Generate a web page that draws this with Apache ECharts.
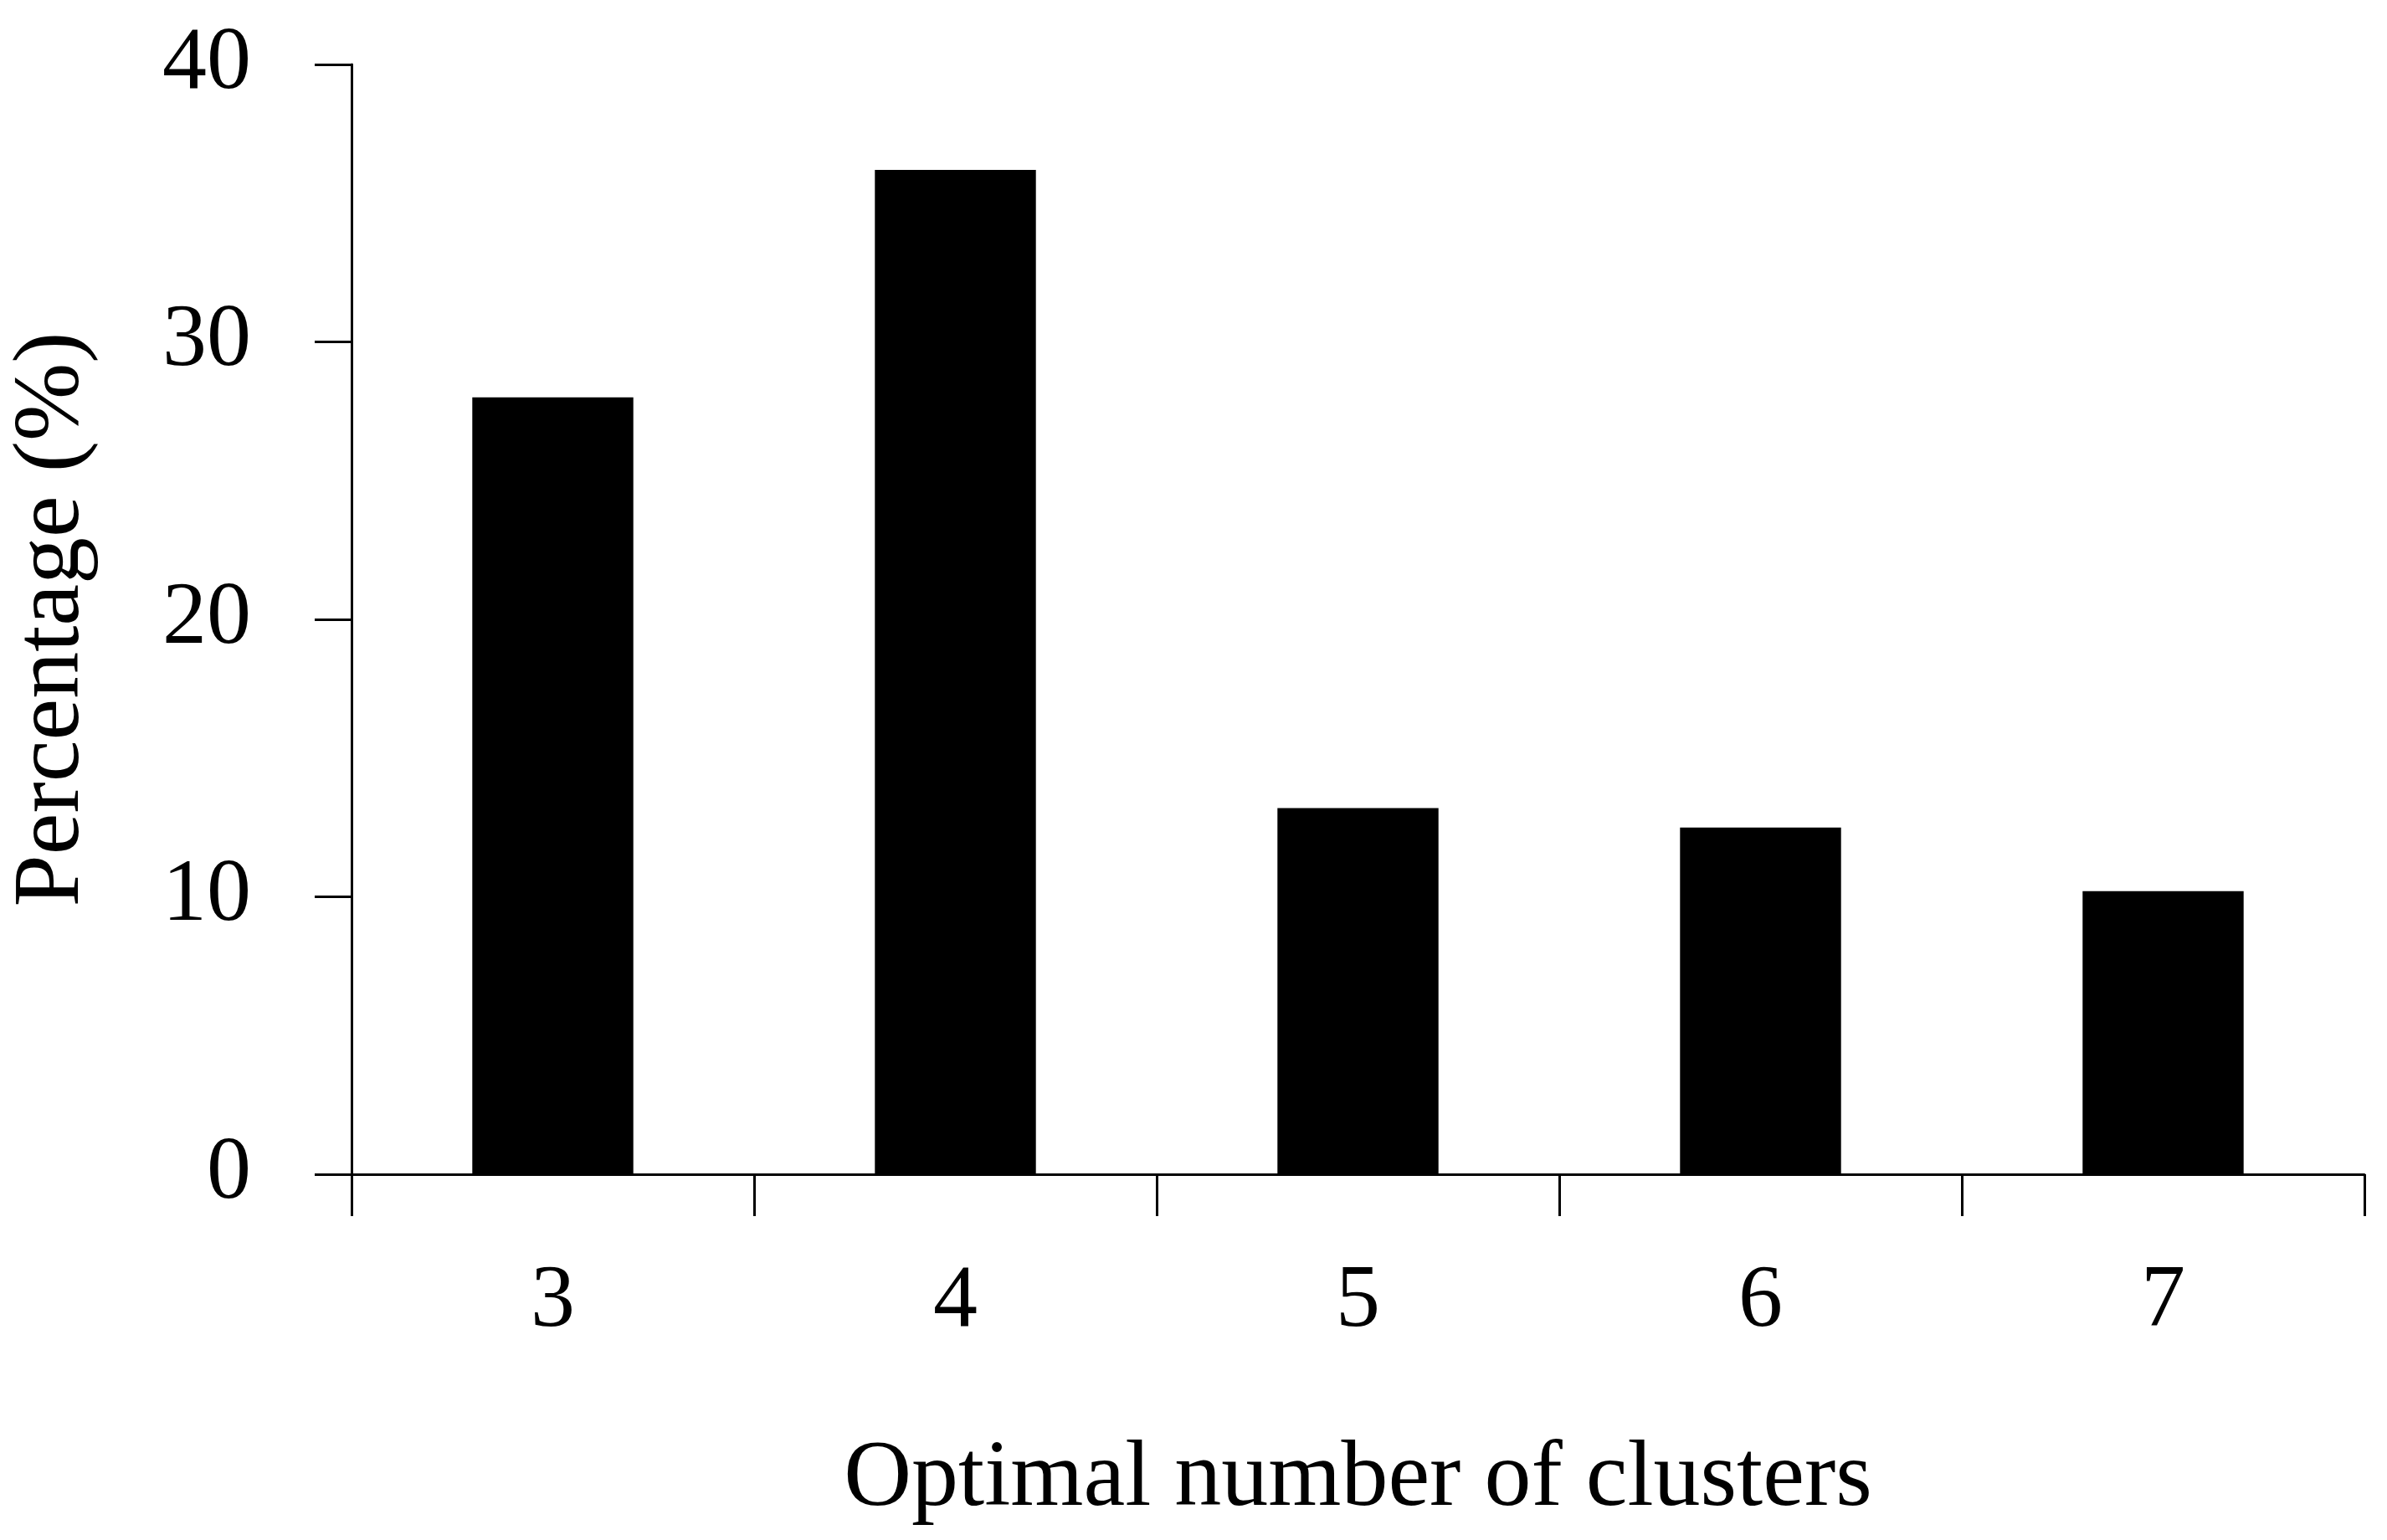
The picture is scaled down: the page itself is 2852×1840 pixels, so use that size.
<!DOCTYPE html>
<html>
<head>
<meta charset="utf-8">
<script src="https://cdn.jsdelivr.net/npm/echarts@6/dist/echarts.min.js"></script>
<style>html,body{margin:0;padding:0;background:#fff}#chart{width:2852px;height:1840px}</style>
</head>
<body>
<div id="chart"></div>
<script>
// cluster counts and share of runs (%)
var clusters = ['3', '4', '5', '6', '7'];
var percentages = [28.0, 36.2, 13.2, 12.5, 10.2];
var yTicks = [0, 10, 20, 30, 40];

var font = 'Liberation Serif';
var chart = echarts.init(document.getElementById('chart'));

chart.setOption({
    backgroundColor: '#fff',
    animation: false,
    grid: { left: 414, right: 27, top: 77, bottom: 437 },
    xAxis: {
        type: 'category',
        data: clusters,
        name: 'Optimal number of clusters',
        nameLocation: 'middle',
        nameGap: 310,
        nameTextStyle: { fontFamily: font, fontSize: 112, color: '#000' },
        axisLine: { lineStyle: { color: '#000', width: 3 } },
        axisTick: { show: true, length: 50, lineStyle: { color: '#000', width: 3 } },
        axisLabel: { fontFamily: font, fontSize: 106, color: '#000', margin: 100 }
    },
    yAxis: {
        type: 'value',
        min: yTicks[0],
        max: yTicks[yTicks.length - 1],
        interval: 10,
        name: 'Percentage (%)',
        nameLocation: 'middle',
        nameGap: 300,
        nameTextStyle: { fontFamily: font, fontSize: 112, color: '#000' },
        splitLine: { show: false },
        axisLine: { show: true, lineStyle: { color: '#000', width: 3 } },
        axisTick: { show: true, length: 44, lineStyle: { color: '#000', width: 3 } },
        axisLabel: { fontFamily: font, fontSize: 106, color: '#000', margin: 120 }
    },
    series: [{
        type: 'bar',
        data: percentages,
        barWidth: '40%',
        itemStyle: { color: '#000' }
    }]
});
</script>
</body>
</html>
